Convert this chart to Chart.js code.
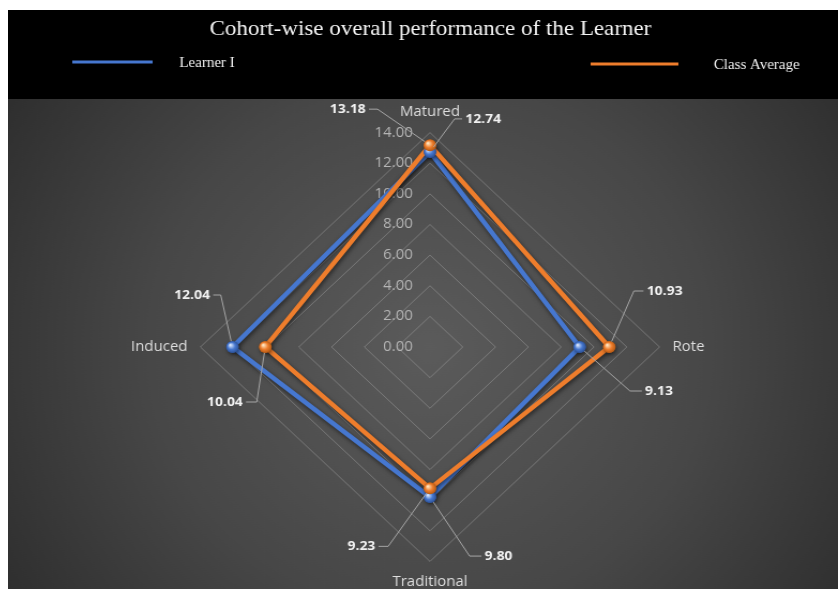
<!DOCTYPE html>
<html>
<head>
<meta charset="utf-8">
<title>Cohort-wise overall performance of the Learner</title>
<script src="https://cdn.jsdelivr.net/npm/chart.js@4/dist/chart.umd.min.js"></script>
<style>
html, body { margin: 0; padding: 0; background: #fff; overflow: hidden; }
#wrap { position: absolute; left: 8px; top: 10px; width: 830px; height: 579px; overflow: hidden; }
</style>
</head>
<body>
<div id="wrap"><canvas id="radar" width="775" height="582" style="width:830px;height:582px"></canvas></div>
<script>
var cohorts = ['Matured', 'Rote', 'Traditional', 'Induced'];
var learnerScores = [12.74, 9.13, 9.80, 12.04];
var classAverage = [13.18, 10.93, 9.23, 10.04];
var tickValues = [0, 2, 4, 6, 8, 10, 12, 14];

var BLUE = '#4677CF';
var ORANGE = '#EE7D2C';

// callout elbow offset from the point (dx, dy) and the length of the flat tail, per cohort
var learnerCallouts = [[23, -33, 7], [47, 44, 11], [37, 59, 11], [-11, -52, -7]];
var classCallouts = [[-49, -36, -8], [23, -56, 9], [-39, 58, -9], [-8, 55, -10]];

// where each legend entry sits in the black header: line start, line end, line y, text x, text y
var legendSlots = [[60, 135, 52, 160, 53], [544, 626, 54, 659, 55]];

var backdrop = {
	id: 'backdrop',
	beforeDraw: function(chart){
		var ctx = chart.ctx, r = chart.scales.r;
		ctx.save();
		ctx.fillStyle = '#000';
		ctx.fillRect(0, 0, chart.width, 89);
		var g = ctx.createRadialGradient(r.xCenter, r.yCenter, 0, r.xCenter, r.yCenter, 480);
		g.addColorStop(0, '#5b5b5b');
		g.addColorStop(0.55, '#474747');
		g.addColorStop(1, '#2d2d2d');
		ctx.fillStyle = g;
		ctx.fillRect(0, 89, chart.width, chart.height - 89);
		ctx.restore();
	}
};

var tickText = {
	id: 'tickText',
	beforeDatasetsDraw: function(chart){
		var ctx = chart.ctx, r = chart.scales.r;
		ctx.save();
		ctx.fillStyle = '#b4b4b4';
		ctx.font = '14px "Open Sans"';
		ctx.textAlign = 'right';
		ctx.textBaseline = 'middle';
		r.ticks.forEach(function(t){
			var d = r.getDistanceFromCenterForValue(t.value);
			ctx.fillText(t.value.toFixed(2), r.xCenter - 16, r.yCenter - d);
		});
		ctx.restore();
	}
};

// soft drop shadow under each series line
var lineShadow = {
	id: 'lineShadow',
	beforeDatasetDraw: function(chart){
		var ctx = chart.ctx;
		ctx.save();
		ctx.shadowColor = 'rgba(0,0,0,0.55)';
		ctx.shadowBlur = 4;
		ctx.shadowOffsetX = 1;
		ctx.shadowOffsetY = 2;
	},
	afterDatasetDraw: function(chart){
		chart.ctx.restore();
	}
};

var glossyPoints = {
	id: 'glossyPoints',
	afterDatasetsDraw: function(chart){
		var ctx = chart.ctx;
		var shades = [['#d6e4fb', BLUE, '#27498a'], ['#ffe4bf', ORANGE, '#a9520f']];
		[0, 1].forEach(function(di){
			var meta = chart.getDatasetMeta(di);
			meta.data.forEach(function(pt){
				var g = ctx.createRadialGradient(pt.x - 2, pt.y - 2, 0.5, pt.x, pt.y, 6.5);
				g.addColorStop(0, shades[di][0]);
				g.addColorStop(0.5, shades[di][1]);
				g.addColorStop(1, shades[di][2]);
				ctx.beginPath();
				ctx.arc(pt.x, pt.y, 6, 0, Math.PI * 2);
				ctx.fillStyle = g;
				ctx.fill();
			});
		});
	}
};

var callouts = {
	id: 'callouts',
	afterDatasetsDraw: function(chart){
		var ctx = chart.ctx;
		var sets = [learnerCallouts, classCallouts];
		ctx.save();
		ctx.font = 'bold 13px "Open Sans"';
		ctx.textBaseline = 'middle';
		[0, 1].forEach(function(di){
			var meta = chart.getDatasetMeta(di);
			var values = chart.data.datasets[di].data;
			meta.data.forEach(function(pt, i){
				var c = sets[di][i];
				var ex = pt.x + c[0], ey = pt.y + c[1];
				var len = Math.sqrt(c[0] * c[0] + c[1] * c[1]);
				var sx = pt.x + c[0] / len * 6, sy = pt.y + c[1] / len * 6;
				ctx.beginPath();
				ctx.moveTo(sx, sy);
				ctx.lineTo(ex, ey);
				ctx.lineTo(ex + c[2], ey);
				ctx.strokeStyle = '#a6a6a6';
				ctx.lineWidth = 1;
				ctx.stroke();
				ctx.fillStyle = '#f2f2f2';
				ctx.textAlign = c[2] < 0 ? 'right' : 'left';
				ctx.fillText(values[i].toFixed(2), ex + c[2] + (c[2] < 0 ? -3 : 3), ey);
			});
		});
		ctx.restore();
	}
};

var headerLegend = {
	id: 'headerLegend',
	afterDraw: function(chart){
		var ctx = chart.ctx;
		ctx.save();
		ctx.font = '14px "Liberation Serif"';
		ctx.textBaseline = 'middle';
		ctx.textAlign = 'left';
		chart.data.datasets.forEach(function(ds, i){
			var s = legendSlots[i];
			ctx.beginPath();
			ctx.moveTo(s[0], s[2]);
			ctx.lineTo(s[1], s[2]);
			ctx.strokeStyle = ds.borderColor;
			ctx.lineWidth = 3;
			ctx.stroke();
			ctx.fillStyle = '#f0f0f0';
			ctx.fillText(ds.label, s[3], s[4]);
		});
		ctx.restore();
	}
};

new Chart(document.getElementById('radar'), {
	type: 'radar',
	data: {
		labels: cohorts,
		datasets: [
			{
				label: 'Learner I',
				data: learnerScores,
				borderColor: BLUE,
				backgroundColor: 'transparent',
				borderWidth: 4.5,
				pointRadius: 5.5,
				pointBorderWidth: 0,
				pointBackgroundColor: BLUE,
				order: 2
			},
			{
				label: 'Class Average',
				data: classAverage,
				borderColor: ORANGE,
				backgroundColor: 'transparent',
				borderWidth: 4.5,
				pointRadius: 5.5,
				pointBorderWidth: 0,
				pointBackgroundColor: ORANGE,
				order: 1
			}
		]
	},
	options: {
		responsive: false,
		animation: false,
		devicePixelRatio: 1,
		layout: {padding: {left: 14, right: 0, top: 0, bottom: 0}},
		plugins: {
			legend: {display: false},
			tooltip: {enabled: false},
			title: {
				display: true,
				text: 'Cohort-wise overall performance of the Learner',
				color: '#f4f4f4',
				font: {family: 'Liberation Serif', size: 21.5, weight: 'normal'},
				padding: {top: 6, bottom: 62}
			}
		},
		scales: {
			r: {
				min: 0,
				max: 14,
				afterBuildTicks: function(scale){
					scale.ticks = tickValues.map(function(v){ return {value: v}; });
				},
				ticks: {display: false},
				grid: {color: 'rgba(170,170,170,0.45)', lineWidth: 1},
				angleLines: {display: false},
				pointLabels: {
					color: '#dedede',
					font: {family: 'Open Sans', size: 14},
					padding: 12
				}
			}
		}
	},
	plugins: [backdrop, tickText, lineShadow, glossyPoints, callouts, headerLegend]
});
</script>
</body>
</html>
